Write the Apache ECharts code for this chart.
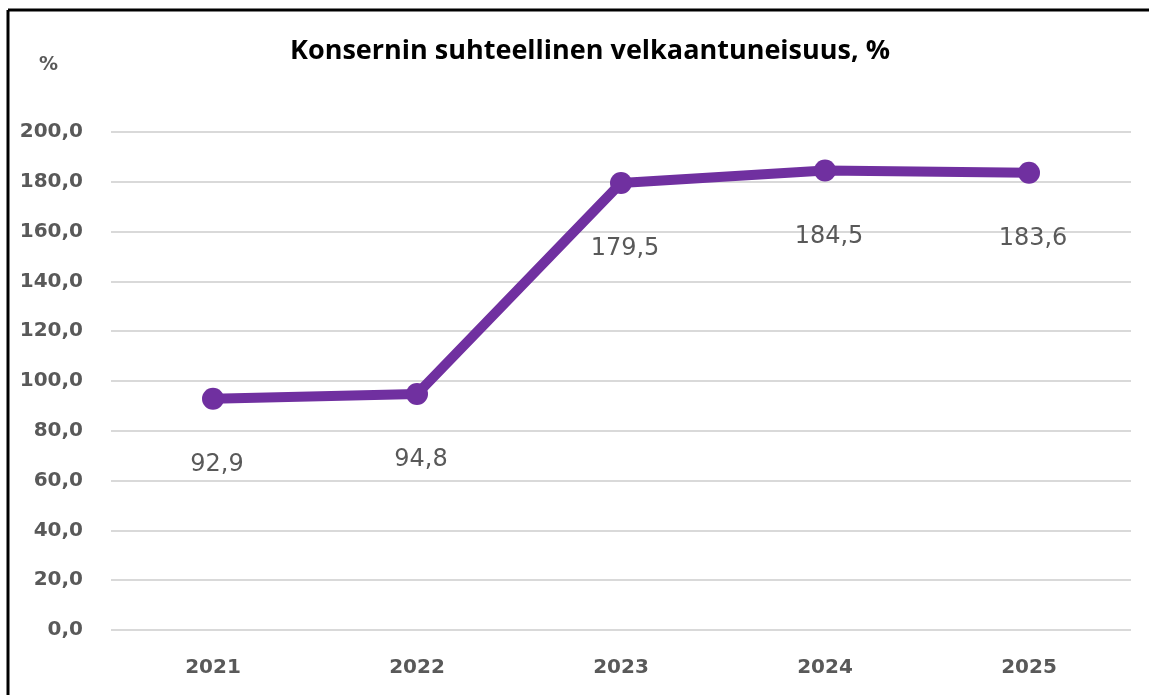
<!DOCTYPE html>
<html>
<head>
<meta charset="utf-8">
<script src="https://cdn.jsdelivr.net/npm/echarts@6/dist/echarts.min.js"></script>
<style>
  html, body { margin: 0; padding: 0; background: #fff; }
  #chart { width: 1149px; height: 695px; }
</style>
</head>
<body>
<div id="chart"></div>
<script>
  var years = ['2021', '2022', '2023', '2024', '2025'];
  var gearing = [92.9, 94.8, 179.5, 184.5, 183.6];
  var yTicks = { min: 0, max: 200, step: 20 };

  function fmt(v) {
    return v.toFixed(1).replace('.', ',');
  }

  var chart = echarts.init(document.getElementById('chart'));
  chart.setOption({
    animation: false,
    textStyle: { fontFamily: 'DejaVu Sans' },
    title: {
      text: 'Konsernin suhteellinen velkaantuneisuus, %',
      left: 585,
      top: 33,
      textAlign: 'center',
      textStyle: { fontFamily: 'Open Sans', fontSize: 27, fontWeight: 'bold', color: '#000' }
    },
    graphic: [
      { type: 'line', shape: { x1: 8, y1: 10, x2: 1149, y2: 10 }, style: { stroke: '#000', lineWidth: 3 } },
      { type: 'line', shape: { x1: 8, y1: 10, x2: 8, y2: 695 }, style: { stroke: '#000', lineWidth: 3 } },
      {
        type: 'text', left: 39, top: 56,
        style: { text: '%', fill: '#595959', font: 'bold 19px "DejaVu Sans"' }
      }
    ],
    grid: { left: 111, right: 18, top: 132, bottom: 65 },
    xAxis: {
      type: 'category',
      data: years,
      boundaryGap: true,
      axisLine: { show: false },
      axisTick: { show: false },
      axisLabel: { color: '#595959', fontSize: 20, fontWeight: 'bold', margin: 28 }
    },
    yAxis: {
      type: 'value',
      min: yTicks.min,
      max: yTicks.max,
      interval: yTicks.step,
      axisLine: { show: false },
      axisTick: { show: false },
      splitLine: { lineStyle: { color: '#d9d9d9', width: 2 } },
      axisLabel: {
        color: '#595959', fontSize: 20, fontWeight: 'bold', margin: 28,
        formatter: function (v) { return fmt(v); }
      }
    },
    series: [{
      type: 'line',
      data: gearing,
      symbol: 'circle',
      symbolSize: 22,
      lineStyle: { color: '#7030a0', width: 10 },
      itemStyle: { color: '#7030a0' },
      label: {
        show: true,
        position: 'bottom',
        distance: 43,
        offset: [4, 0],
        color: '#595959',
        fontSize: 24,
        formatter: function (p) { return fmt(p.value); }
      }
    }]
  });
</script>
</body>
</html>
